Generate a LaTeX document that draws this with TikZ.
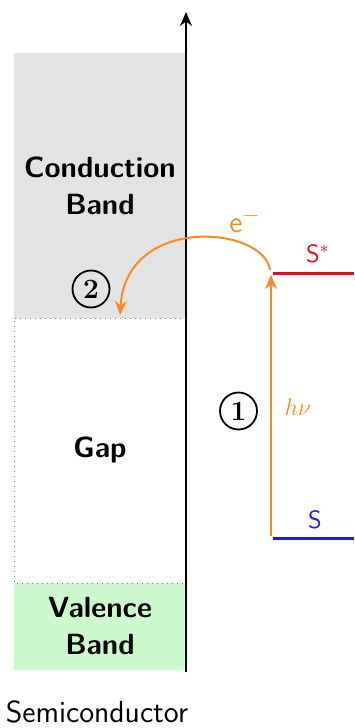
\documentclass[tikz,border=0pt]{standalone}
\usetikzlibrary{arrows.meta}
\definecolor{myorange}{RGB}{247,140,30}
\definecolor{myred}{RGB}{232,10,30}
\definecolor{myblue}{RGB}{30,30,225}
\definecolor{mygray}{RGB}{227,227,227}
\definecolor{mygreen}{RGB}{204,250,204}
\begin{document}
\begin{tikzpicture}[x=0.5pt,y=-0.5pt,
  bandtxt/.style={font=\sffamily\bfseries\fontsize{14.6}{18.5}\selectfont, align=center, inner sep=0pt},
  levtxt/.style={font=\sffamily\fontsize{12.5}{14}\selectfont, inner sep=0pt, anchor=base},
  stepnum/.style={circle, draw, line width=0.9pt, minimum size=18.5pt, inner sep=0pt, font=\rmfamily\bfseries\fontsize{14}{14}\selectfont},
  orangearrow/.style={myorange, line width=1pt, -{Stealth[length=7pt,width=6pt]}}
]
\useasboundingbox (0,0) rectangle (354,728);
% bands
\fill[mygray] (14,53) rectangle (186,318);
\fill[mygreen] (14,583) rectangle (186,670);
\draw[gray, dotted, line width=0.5pt] (186,318) -- (14,318) -- (14,583) -- (186,583);
% axis
\coordinate (axb) at (186,672);
\coordinate (axt) at (186,12);
\draw[line width=1pt, -{Stealth[length=7pt,width=6pt]}] (axb) -- (axt);
% band labels
\node[bandtxt] (cb) at (100,186) {Conduction\\Band};
\node[bandtxt] (gap) at (100,450) {Gap};
\node[bandtxt] (vb) at (100,626) {Valence\\Band};
\node[font=\sffamily\fontsize{15.2}{17}\selectfont, inner sep=0pt, anchor=base] (sc) at (97,722) {Semiconductor};
% levels
\coordinate (ssl) at (273,273.5);
\coordinate (ssr) at (354,273.5);
\coordinate (sl) at (273,538.5);
\coordinate (sr) at (354,538.5);
\draw[myred, line width=1.6pt] (ssl) -- (ssr);
\draw[myblue, line width=1.6pt] (sl) -- (sr);
\node[levtxt, text=myred] (sstar) at (318,262) {S$^*$};
\node[levtxt, text=myblue] (slab) at (315,528) {S};
% excitation
\coordinate (exb) at (271,536);
\coordinate (ext) at (271,275);
\draw[orangearrow] (exb) -- (ext);
\node[font=\fontsize{13}{13}\selectfont, text=myorange, inner sep=0pt, anchor=base] (hnu) at (298,415) {$h\nu$};
\node[stepnum] (one) at (238.5,411) {1};
% injection
\coordinate (inj0) at (270,270);
\coordinate (inj1) at (120,315);
\draw[orangearrow] (inj0) .. controls (264,226) and (126,214) .. (inj1);
\node[font=\sffamily\fontsize{15}{15}\selectfont, text=myorange, inner sep=0pt, anchor=base] (el) at (245,232) {e$^-$};
\node[stepnum] (two) at (91,289) {2};
\end{tikzpicture}
\end{document}
